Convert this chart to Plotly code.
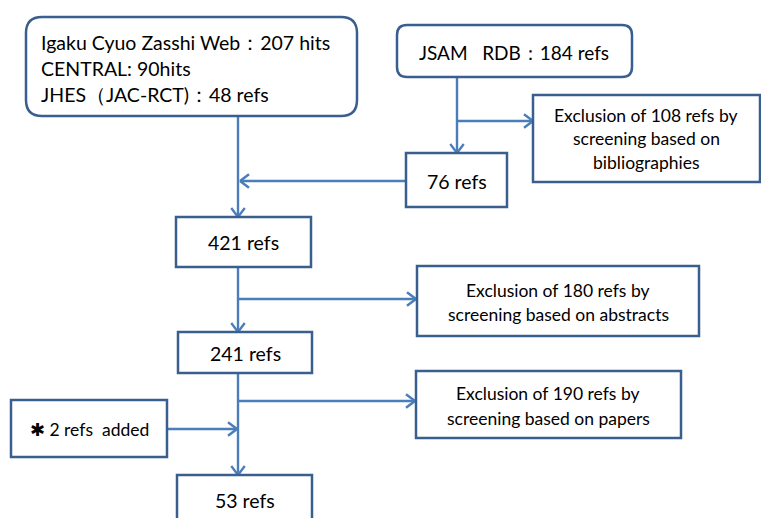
import plotly.graph_objects as go

# ---- data (flow counts and labels) ----
source_names = ["Igaku Cyuo Zasshi Web", "CENTRAL", "JHES（JAC-RCT)"]
source_counts = [207, 90, 48]
source_units = ["hits", "hits", "refs"]
jsam_name = "JSAM\u00a0\u00a0\u00a0RDB"
jsam_count = 184
after_biblio = 76
merged = 421
after_abstracts = 241
added = 2
final = 53
excluded = [108, 180, 190]
excl_basis = ["bibliographies", "abstracts", "papers"]

# ---- layout (pixel geometry) ----
W, H = 761, 518
BORDER = "#3A5F8F"
LINE = "#4A7EBB"
FONT = "Lato, 'Open Sans', sans-serif"

shapes = []
annotations = []


def rect(x0, y0, x1, y1):
    shapes.append(dict(type="rect", x0=x0, y0=y0, x1=x1, y1=y1,
                       xref="x", yref="y", line=dict(color=BORDER, width=2.5),
                       fillcolor="white", layer="above"))


def rrect(x0, y0, x1, y1, r):
    p = (f"M{x0+r},{y0} L{x1-r},{y0} Q{x1},{y0} {x1},{y0+r} "
         f"L{x1},{y1-r} Q{x1},{y1} {x1-r},{y1} L{x0+r},{y1} "
         f"Q{x0},{y1} {x0},{y1-r} L{x0},{y0+r} Q{x0},{y0} {x0+r},{y0} Z")
    shapes.append(dict(type="path", path=p, xref="x", yref="y",
                       line=dict(color=BORDER, width=2.5), fillcolor="white",
                       layer="above"))


def seg(x0, y0, x1, y1):
    shapes.append(dict(type="line", x0=x0, y0=y0, x1=x1, y1=y1,
                       xref="x", yref="y", line=dict(color=LINE, width=2.4),
                       layer="below"))


def arrow(x0, y0, x1, y1, size=9):
    seg(x0, y0, x1, y1)
    dx, dy = x1 - x0, y1 - y0
    L = (dx * dx + dy * dy) ** 0.5
    ux, uy = dx / L, dy / L
    px, py = -uy, ux
    for s in (1, -1):
        shapes.append(dict(type="line", x0=x1, y0=y1,
                           x1=x1 - ux * size + s * px * size * 0.75,
                           y1=y1 - uy * size + s * py * size * 0.75,
                           xref="x", yref="y",
                           line=dict(color=LINE, width=2.4), layer="below"))


def text(x, y, t, size=16, anchor="center"):
    annotations.append(dict(x=x, y=y, xref="x", yref="y", text=t,
                            showarrow=False, xanchor=anchor, yanchor="middle",
                            font=dict(family=FONT, size=size, color="black")))


# connectors
arrow(238, 117, 238, 217)
arrow(457, 77, 457, 153)
arrow(457, 121, 533, 121)
arrow(406, 181, 240, 181)
arrow(238, 267, 238, 332)
arrow(238, 299, 416, 299)
arrow(238, 373, 238, 475)
arrow(238, 401, 415, 401)
arrow(167, 429, 237, 429)

# boxes
rrect(26, 17, 357, 116, 16)
rrect(397, 25, 632, 77, 10)
rect(533, 95, 760, 182)
rect(406, 153, 507, 207)
rect(176, 217, 311, 267)
rect(417, 266, 699, 336)
rect(178, 332, 312, 373)
rect(416, 371, 681, 438)
rect(11, 400, 167, 457)
rect(177, 475, 312, 530)

# texts
src_y = [42, 68, 94]
for i in range(3):
    if i == 1:
        t = f"{source_names[i]}: {source_counts[i]}{source_units[i]}"
    else:
        t = f"{source_names[i]}：{source_counts[i]} {source_units[i]}"
    text(39, src_y[i], t, size=19.5, anchor="left")

text(514, 52, f"{jsam_name}：{jsam_count} refs", size=19)
text(457, 181, f"{after_biblio} refs", size=19.5)
text(243, 242, f"{merged} refs", size=19.5)
text(245, 353, f"{after_abstracts} refs", size=19.5)
text(245, 500, f"{final} refs", size=19.5)
text(89, 429, f"✱ {added} refs\u00a0\u00a0added", size=17.5)

EX = 17.5
text(646, 115, f"Exclusion of {excluded[0]} refs by", size=EX)
text(646, 138, "screening based on", size=EX)
text(646, 162, excl_basis[0], size=EX)

text(558, 290, f"Exclusion of {excluded[1]} refs by", size=EX)
text(558, 314, f"screening based on {excl_basis[1]}", size=EX)

text(548, 393, f"Exclusion of {excluded[2]} refs by", size=EX)
text(548, 418, f"screening based on {excl_basis[2]}", size=EX)

fig = go.Figure()
fig.update_layout(
    width=W, height=H,
    margin=dict(l=0, r=0, t=0, b=0),
    paper_bgcolor="white", plot_bgcolor="white",
    xaxis=dict(range=[0, W], visible=False, fixedrange=True),
    yaxis=dict(range=[H, 0], visible=False, fixedrange=True),
    shapes=shapes, annotations=annotations, showlegend=False,
)
fig.write_html("out.html", config={"displayModeBar": False},
               post_script="document.body.style.margin='0';document.body.style.overflow='hidden';")
